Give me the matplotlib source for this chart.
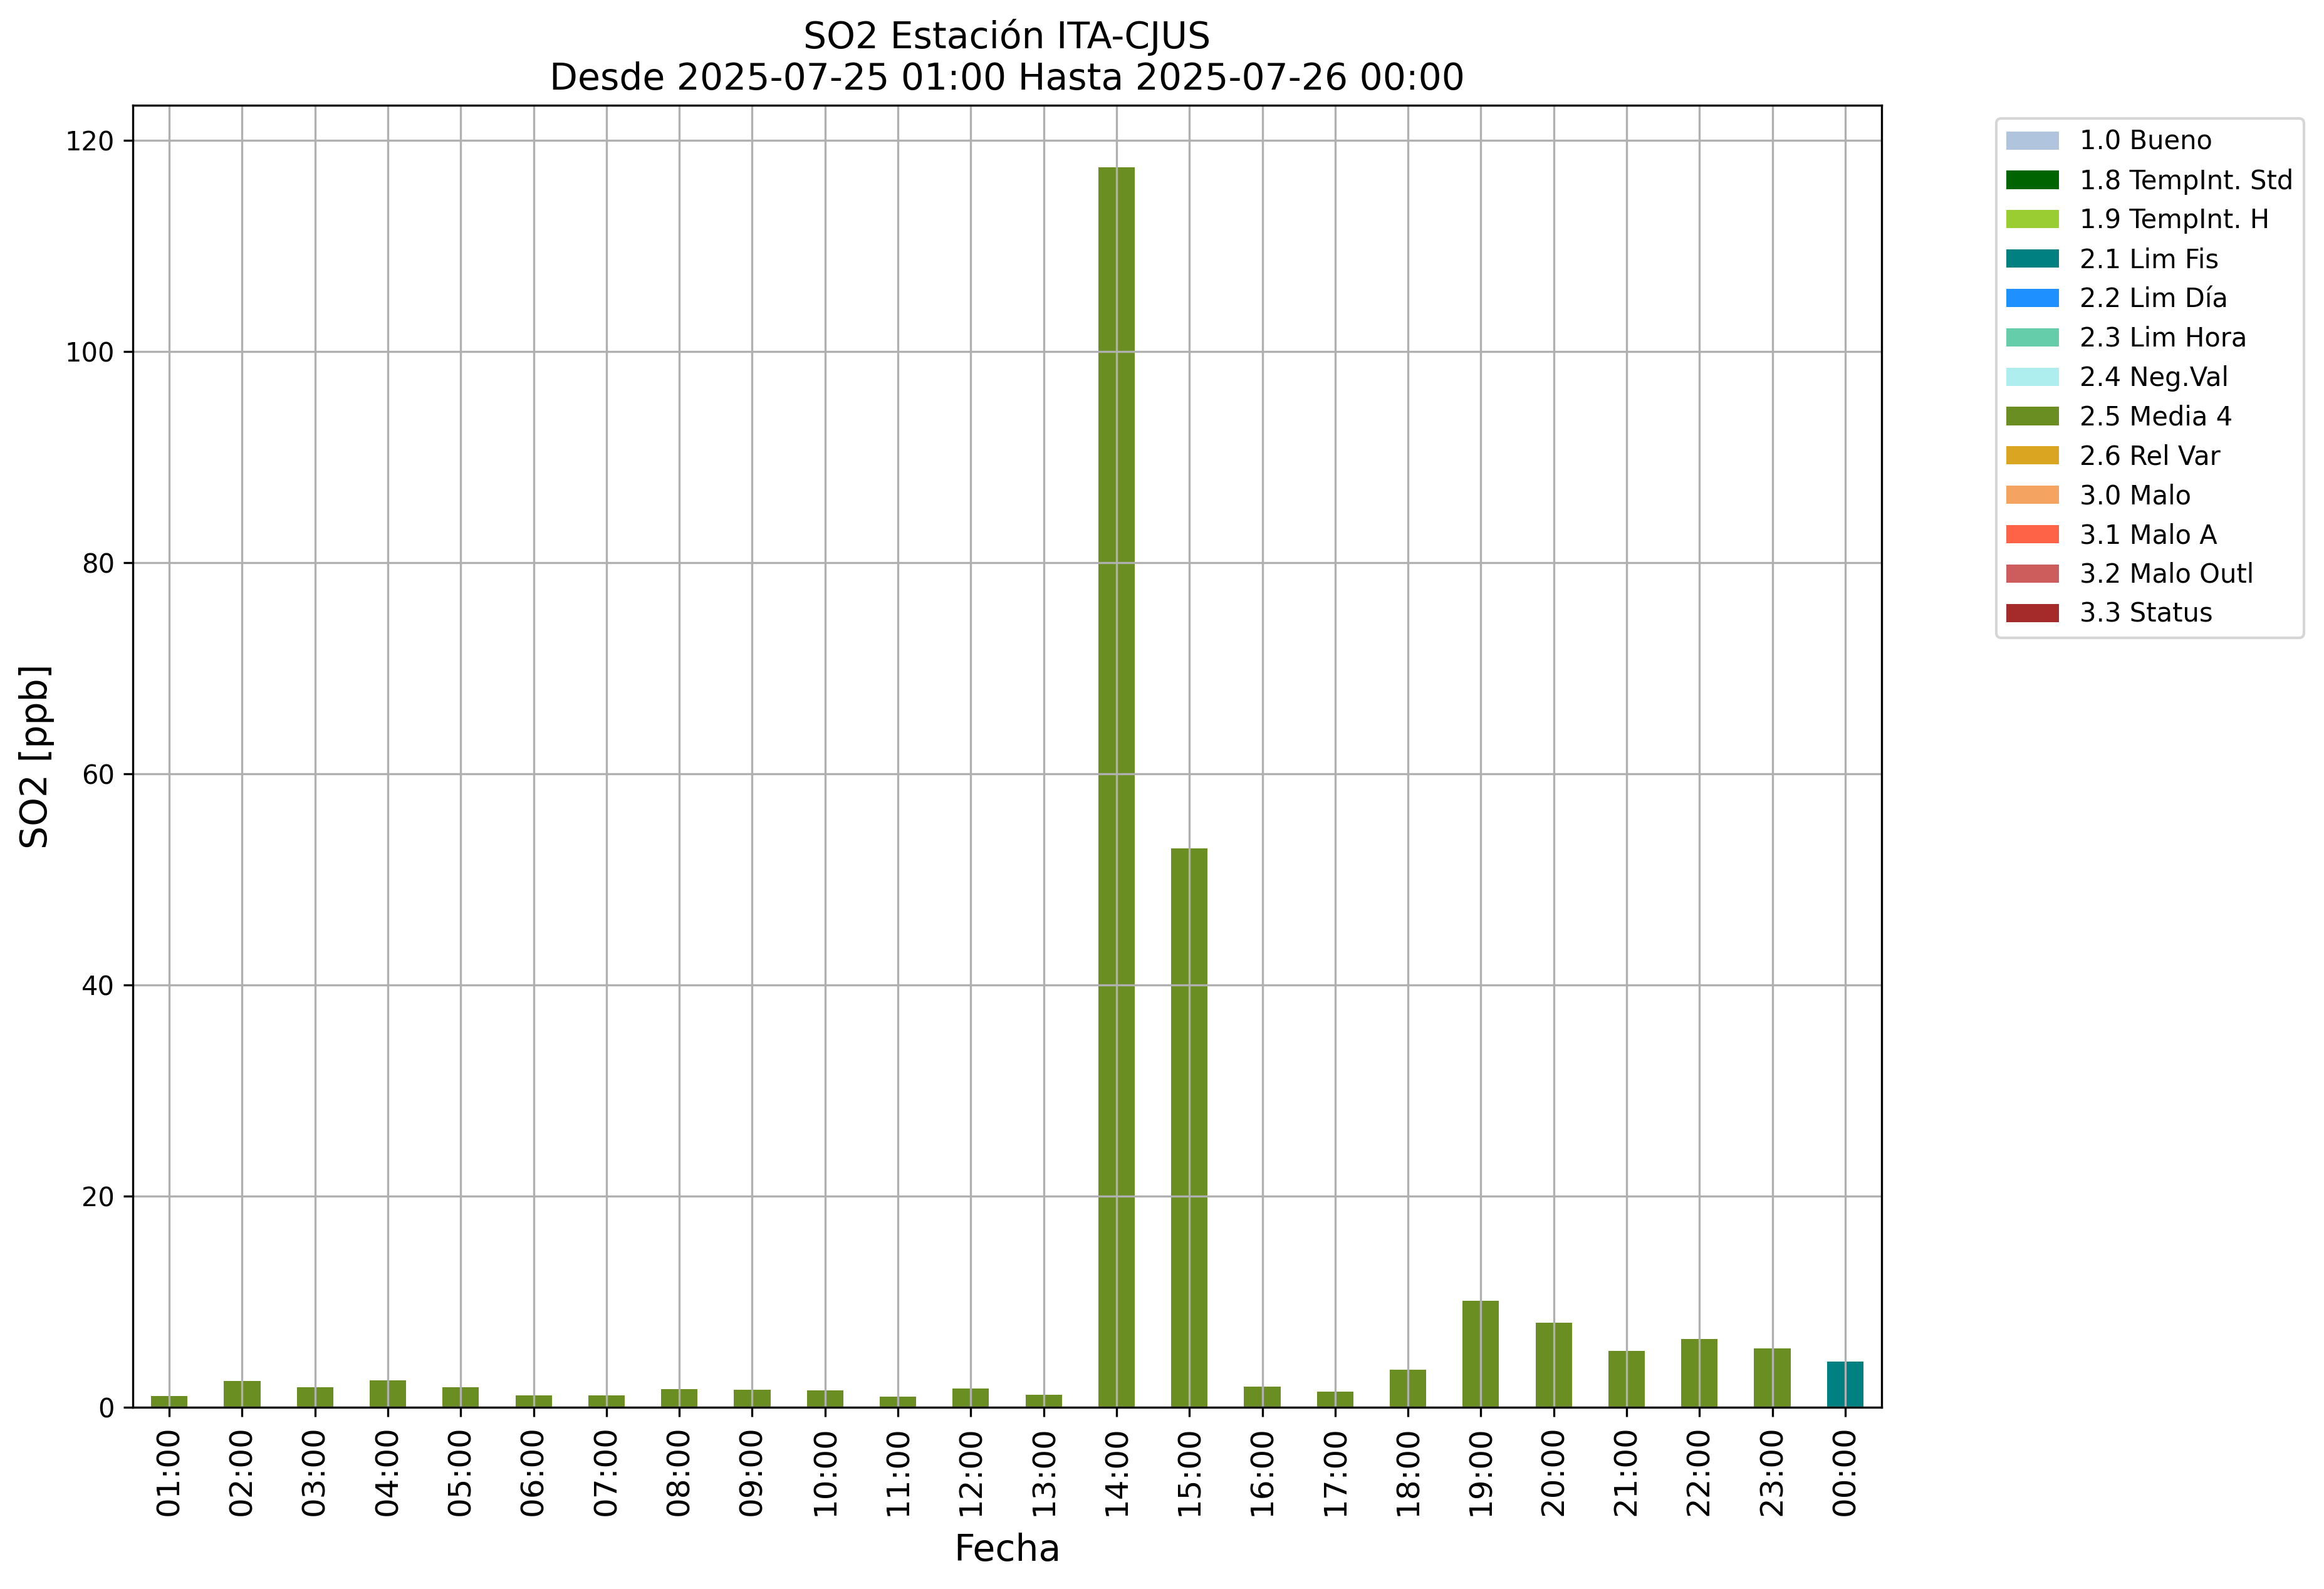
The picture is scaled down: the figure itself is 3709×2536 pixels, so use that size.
import numpy as np
import matplotlib
matplotlib.use("Agg")
import matplotlib.pyplot as plt

hours = ["01:00", "02:00", "03:00", "04:00", "05:00", "06:00", "07:00", "08:00",
         "09:00", "10:00", "11:00", "12:00", "13:00", "14:00", "15:00", "16:00",
         "17:00", "18:00", "19:00", "20:00", "21:00", "22:00", "23:00", "00:00"]
so2 = [1.07, 2.49, 1.90, 2.55, 1.90, 1.13, 1.13, 1.72, 1.66, 1.60, 1.00, 1.78,
       1.19, 117.45, 52.94, 1.94, 1.46, 3.55, 10.1, 8.04, 5.37, 6.45, 5.56, 4.31]
flags = ["2.5 Media 4"] * 23 + ["2.1 Lim Fis"]

categories = ["1.0 Bueno", "1.8 TempInt. Std", "1.9 TempInt. H", "2.1 Lim Fis",
              "2.2 Lim Día", "2.3 Lim Hora", "2.4 Neg.Val", "2.5 Media 4",
              "2.6 Rel Var", "3.0 Malo", "3.1 Malo A", "3.2 Malo Outl", "3.3 Status"]
colors = ["lightsteelblue", "darkgreen", "yellowgreen", "teal", "dodgerblue",
          "mediumaquamarine", "paleturquoise", "olivedrab", "goldenrod",
          "sandybrown", "tomato", "indianred", "brown"]

fig = plt.figure(figsize=(3709 / 300, 2536 / 300), dpi=300)
ax = fig.add_axes([212 / 3709, 1 - 2246 / 2536, (3003 - 212) / 3709, (2246 - 168.3) / 2536])

x = np.arange(len(hours))
bottom = np.zeros(len(hours))
for cat, col in zip(categories, colors):
    vals = np.array([v if f == cat else 0.0 for v, f in zip(so2, flags)])
    ax.bar(x, vals, width=0.5, bottom=bottom, color=col, label=cat)
    bottom += vals

ax.set_xlim(-0.5, len(hours) - 0.5)
ax.set_ylim(0, max(so2) * 1.05)
ax.set_xticks(x)
ax.set_xticklabels(hours, rotation=90, fontsize=12)
ax.tick_params(axis='y', labelsize=10)
ax.grid(True)
ax.set_xlabel("Fecha", fontsize=14, labelpad=6.5)
ax.set_ylabel("SO2 [ppb]", fontsize=14)
ax.set_title("SO2 Estación ITA-CJUS\nDesde 2025-07-25 01:00 Hasta 2025-07-26 00:00", fontsize=14)
ax.legend(loc="upper left", bbox_to_anchor=(1.058, 1), fontsize=10)

fig.savefig("out.png", dpi=300)
